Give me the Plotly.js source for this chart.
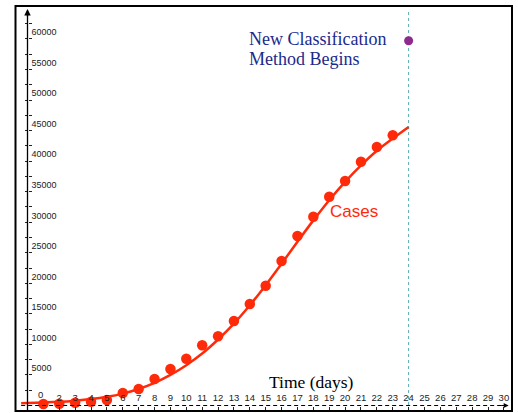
<!DOCTYPE html>
<html>
<head>
<meta charset="utf-8">
<script src="https://cdn.plot.ly/plotly-3.0.1.min.js"></script>
<style>
  html, body { margin: 0; padding: 0; background: #fff; }
  #chart { width: 518px; height: 413px; }
</style>
</head>
<body>
<div id="chart"></div>
<script>
// daily confirmed cases
const days = [1, 2, 3, 4, 5, 6, 7, 8, 9, 10, 11, 12, 13, 14, 15, 16, 17, 18, 19, 20, 21, 22, 23];
const cases = [250, 300, 460, 620, 900, 2050, 2700, 4340, 5970, 7660, 9850, 11330, 13830,
  16610, 19610, 23650, 27740, 30900, 34170, 36740, 39900, 42310, 44220];

// fitted curve at each day
const fitDays = [-0.4, 0, 1, 2, 3, 4, 5, 6, 7, 8, 9, 10, 11, 12, 13, 14, 15, 16, 17, 18, 19, 20, 21, 22, 23, 24];
const fitCases = [370, 400, 480, 600, 790, 1050, 1420, 1950, 2700, 3700, 5000, 6600, 8500, 10800,
  13400, 16400, 19700, 23200, 26800, 30300, 33600, 36600, 39300, 41700, 43700, 45600];

// the jump after the new classification
const newDays = [24];
const newCases = [59700];

const xTicks = [1, 2, 3, 4, 5, 6, 7, 8, 9, 10, 11, 12, 13, 14, 15, 16, 17, 18, 19, 20,
  21, 22, 23, 24, 25, 26, 27, 28, 29, 30];
const yTicks = [2500, 5000, 7500, 10000, 12500, 15000, 17500, 20000, 22500, 25000, 27500, 30000,
  32500, 35000, 37500, 40000, 42500, 45000, 47500, 50000, 52500, 55000, 57500, 60000, 62500];
const yTickText = yTicks.map(v => (v % 5000 === 0 ? String(v) : ""));

const xRange = [-1.732, 30.888];
const yRange = [-1227, 66367];
const xZero = (0 - xRange[0]) / (xRange[1] - xRange[0]);
const yZero = (0 - yRange[0]) / (yRange[1] - yRange[0]);

const red = "#ff2a0a";
const tickFont = { family: "Liberation Sans, Arial, sans-serif", size: 9.5, color: "#222" };
const serif = "Liberation Serif, Times New Roman, serif";

const traces = [
  {
    x: fitDays, y: fitCases, type: "scatter", mode: "lines",
    line: { color: red, width: 2.5, shape: "spline", smoothing: 0.8 },
    hoverinfo: "skip"
  },
  {
    x: days, y: cases, type: "scatter", mode: "markers",
    marker: { color: red, size: 10.5 },
    cliponaxis: false
  },
  {
    x: newDays, y: newCases, type: "scatter", mode: "markers",
    marker: { color: "#8e2a8e", size: 9 }
  },
  {
    // second y axis only to draw the inner half of the y ticks
    x: [0], y: [0], yaxis: "y2", mode: "markers", marker: { opacity: 0 }, hoverinfo: "skip"
  }
];

const layout = {
  width: 518,
  height: 413,
  margin: { l: 0, r: 0, t: 0, b: 0 },
  paper_bgcolor: "#fff",
  plot_bgcolor: "#fff",
  showlegend: false,
  xaxis: {
    range: xRange, anchor: "free", position: yZero,
    showgrid: false, zeroline: false, showline: false,
    tickmode: "array", tickvals: xTicks,
    ticks: "outside", ticklen: 3, tickcolor: "#222",
    ticklabelposition: "inside", tickfont: tickFont
  },
  yaxis: {
    range: yRange, anchor: "free", position: xZero,
    showgrid: false, zeroline: false, showline: false,
    tickmode: "array", tickvals: yTicks, ticktext: yTickText,
    ticks: "outside", ticklen: 3, tickcolor: "#222",
    ticklabelposition: "inside top",
    tickfont: { family: "Liberation Sans, Arial, sans-serif", size: 9, color: "#222" }
  },
  yaxis2: {
    range: yRange, overlaying: "y", anchor: "free", position: xZero,
    showgrid: false, zeroline: false, showline: false,
    tickmode: "array", tickvals: yTicks,
    ticks: "inside", ticklen: 3, tickcolor: "#222", showticklabels: false
  },
  shapes: [
    // frame
    { type: "rect", xref: "paper", yref: "paper", x0: 15.5 / 518, x1: 512 / 518, y0: 2 / 413, y1: 407 / 413,
      line: { color: "#000", width: 2 } },
    // x axis, dashed
    { type: "line", x0: -0.4, x1: 30.1, y0: 0, y1: 0, line: { color: "#000", width: 1, dash: "4px,3px" } },
    // y axis
    { type: "line", x0: 0, x1: 0, y0: -900, y1: 64600, line: { color: "#000", width: 1.3 } },
    // day 24 marker line
    { type: "line", x0: 24, x1: 24, yref: "paper", y0: 2 / 413, y1: 404 / 413, layer: "below",
      line: { color: "#5aa8ae", width: 1, dash: "3px,3px" } }
  ],
  annotations: [
    { x: 30.3, y: 0, ax: -9, ay: 0, text: "", showarrow: true, arrowhead: 2, arrowsize: 1,
      arrowwidth: 1, arrowcolor: "#000" },
    { x: 0, y: 64900, ax: 0, ay: 9, text: "", showarrow: true, arrowhead: 2, arrowsize: 1,
      arrowwidth: 1.3, arrowcolor: "#000" },
    { x: 0.8, y: 0, yshift: 11, text: "0", showarrow: false, font: tickFont },
    { x: 13.85, y: 59980, xanchor: "left", showarrow: false, text: "New Classification",
      font: { family: serif, size: 18, color: "#1b2a8c" } },
    { x: 13.85, y: 56700, xanchor: "left", showarrow: false, text: "Method Begins",
      font: { family: serif, size: 18, color: "#1b2a8c" } },
    { x: 18.9, y: 31800, xanchor: "left", showarrow: false, text: "Cases",
      font: { family: "Liberation Sans, Arial, sans-serif", size: 17, color: red } },
    { x: 15.1, y: 3900, xanchor: "left", showarrow: false, text: "Time (days)",
      font: { family: serif, size: 17.5, color: "#000" } }
  ]
};

Plotly.newPlot("chart", traces, layout, { displayModeBar: false, staticPlot: true });
</script>
</body>
</html>
